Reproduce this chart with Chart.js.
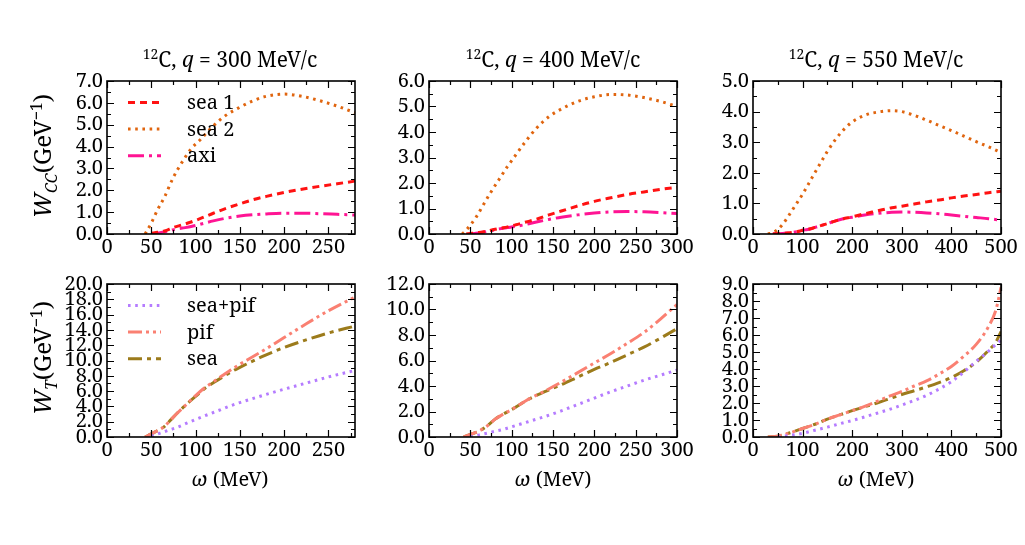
<!DOCTYPE html>
<html>
<head>
<meta charset="utf-8">
<script src="https://cdn.jsdelivr.net/npm/chart.js@4.4.1/dist/chart.umd.min.js"></script>
<style>
  html, body { margin: 0; padding: 0; background: #fff; }
  #wrap { position: relative; width: 1025px; height: 545px; background: #fff; overflow: hidden; font-family: "Noto Serif", "DejaVu Serif", serif; color: #000; }
  canvas { position: absolute; }
  .lbl { position: absolute; white-space: nowrap; line-height: 1; transform: translate(-50%, -50%); font-size: 21px; }
  .xl { font-size: 20px; }
  .ylbl { position: absolute; white-space: nowrap; line-height: 1; transform: translate(-50%, -50%) rotate(-90deg); font-size: 24px; }
  sup, sub { font-size: 0.66em; line-height: 0; }
</style>
</head>
<body>
<div id="wrap">
  <canvas id="cA"></canvas><canvas id="cB"></canvas><canvas id="cC"></canvas>
  <canvas id="cD"></canvas><canvas id="cE"></canvas><canvas id="cF"></canvas>
  <div class="lbl" style="left:230px;top:59px"><sup>12</sup>C, <i>q</i> = 300 MeV/c</div>
  <div class="lbl" style="left:553px;top:59px"><sup>12</sup>C, <i>q</i> = 400 MeV/c</div>
  <div class="lbl" style="left:876px;top:59px"><sup>12</sup>C, <i>q</i> = 550 MeV/c</div>
  <div class="ylbl" style="left:42px;top:156px"><i>W<sub>CC</sub></i>(GeV<sup>−1</sup>)</div>
  <div class="ylbl" style="left:42px;top:358px"><i>W<sub>T</sub></i>(GeV<sup>−1</sup>)</div>
  <div class="lbl xl" style="left:230px;top:479px"><i>ω</i> (MeV)</div>
  <div class="lbl xl" style="left:553px;top:479px"><i>ω</i> (MeV)</div>
  <div class="lbl xl" style="left:876px;top:479px"><i>ω</i> (MeV)</div>
</div>
<script>
// ---------- data ----------
// q = 300 MeV/c, W_CC
const omegaA = [43,50,57,65,75,85,95,105,120,135,150,165,180,200,220,240,260,280];
const sea1A  = [null,0.03,0.08,0.14,0.3,0.42,0.55,0.7,0.95,1.18,1.38,1.57,1.72,1.9,2.05,2.18,2.3,2.42];
const sea2A  = [0,0.5,1.1,1.7,2.6,3.3,3.9,4.3,4.95,5.45,5.8,6.1,6.3,6.4,6.3,6.1,5.85,5.55];
const axiA   = [null,0,0.04,0.1,0.2,0.27,0.34,0.44,0.6,0.73,0.82,0.88,0.92,0.95,0.95,0.93,0.9,0.87];
// q = 400 MeV/c, W_CC
const omegaB = [40,45,50,57,65,75,85,95,105,115,130,145,160,180,200,220,240,260,280,300];
const sea1B  = [null,0,0.02,0.05,0.08,0.15,0.22,0.28,0.36,0.45,0.58,0.75,0.9,1.1,1.28,1.42,1.55,1.65,1.75,1.83];
const sea2B  = [0,0.15,0.35,0.66,1.1,1.65,2.15,2.65,3.1,3.55,4.15,4.6,4.9,5.2,5.38,5.47,5.45,5.35,5.2,5.0];
const axiB   = [null,null,0,0.03,0.07,0.13,0.2,0.25,0.3,0.36,0.47,0.57,0.66,0.75,0.82,0.87,0.88,0.87,0.84,0.8];
// q = 550 MeV/c, W_CC
const omegaC = [30,40,50,60,70,80,90,100,110,120,130,140,150,165,180,200,225,250,280,300,325,350,375,400,425,450,475,500];
const sea1C  = [null,0,0.01,0.02,0.03,0.05,0.08,0.12,0.15,0.19,0.24,0.29,0.34,0.42,0.49,0.56,0.66,0.75,0.86,0.91,0.98,1.05,1.11,1.18,1.24,1.29,1.35,1.4];
const sea2C  = [0,0.05,0.15,0.32,0.55,0.8,1.05,1.3,1.58,1.87,2.15,2.43,2.7,3.06,3.36,3.66,3.88,3.98,4.03,4.0,3.88,3.72,3.55,3.38,3.2,3.02,2.85,2.66];
const axiC   = [null,0,0.01,0.02,0.03,0.05,0.08,0.12,0.15,0.19,0.24,0.29,0.34,0.42,0.49,0.55,0.62,0.67,0.71,0.72,0.71,0.69,0.66,0.62,0.58,0.54,0.5,0.45];
// q = 300 MeV/c, W_T
const omegaD  = [43,50,55,60,65,70,80,90,100,110,120,130,140,150,175,200,225,250,280];
const seapifD = [null,0.1,0.3,0.5,0.7,0.9,1.3,1.8,2.3,2.75,3.2,3.65,4.1,4.5,5.4,6.25,7.05,7.85,8.7];
const pifD    = [0,0.4,0.7,1.0,1.4,2.0,3.2,4.3,5.4,6.4,7.2,8.0,8.8,9.5,11.2,13.0,14.8,16.5,18.3];
const seaD    = [0,0.4,0.7,1.0,1.4,2.0,3.2,4.3,5.3,6.3,7.1,7.8,8.5,9.1,10.5,11.7,12.7,13.6,14.5];
// q = 400 MeV/c, W_T
const omegaE  = [42,50,60,70,80,90,100,110,120,140,160,180,200,220,240,260,280,300];
const seapifE = [null,0,0.15,0.3,0.45,0.6,0.8,1.0,1.2,1.6,2.05,2.55,3.05,3.55,4.0,4.45,4.85,5.25];
const pifE    = [0,0.2,0.45,0.85,1.4,1.8,2.15,2.55,2.95,3.6,4.3,5.05,5.8,6.55,7.35,8.2,9.25,10.4];
const seaE    = [0,0.2,0.45,0.85,1.4,1.8,2.15,2.55,2.95,3.55,4.1,4.7,5.3,5.85,6.45,7.05,7.75,8.5];
// q = 550 MeV/c, W_T
const omegaF  = [30,50,75,100,125,150,175,200,225,250,275,300,325,350,375,400,425,450,475,490,500];
const seapifF = [null,0,0.1,0.22,0.4,0.58,0.78,0.97,1.18,1.4,1.62,1.88,2.15,2.45,2.82,3.25,3.82,4.45,5.05,5.45,5.7];
const pifF    = [0,0.05,0.25,0.5,0.75,1.05,1.3,1.55,1.8,2.1,2.4,2.68,3.0,3.3,3.7,4.15,4.75,5.45,6.5,7.5,8.8];
const seaF    = [0,0.05,0.25,0.5,0.75,1.05,1.3,1.55,1.78,2.0,2.25,2.5,2.72,2.95,3.2,3.5,3.9,4.4,5.1,5.6,6.2];

const ccLabels = ['sea 1', 'sea 2', 'axi'];
const tLabels  = ['sea+pif', 'pif', 'sea'];

// ---------- styles ----------
const FONT = '"Noto Serif", "DejaVu Serif", serif';
const ccStyles = [
  { color: '#ff1212', dash: [7, 5] },
  { color: '#e0650f', dash: [2.6, 4.6] },
  { color: '#ff1493', dash: [16, 5, 3, 5] }
];
const tStyles = [
  { color: '#b57cff', dash: [2.6, 4.6] },
  { color: '#fa8072', dash: [14, 4, 3, 4, 3, 4] },
  { color: '#9c7b1b', dash: [14, 5, 4, 5] }
];

const framePlugin = {
  id: 'frame',
  afterDraw(chart, args, opts) {
    const { ctx, chartArea: a } = chart;
    const xs = chart.scales.x, ys = chart.scales.y;
    ctx.save();
    ctx.strokeStyle = '#000';
    ctx.lineWidth = 1.2;
    ctx.beginPath();
    const tickX = (v, len) => {
      const p = Math.round(xs.getPixelForValue(v)) + 0.5;
      ctx.moveTo(p, a.bottom); ctx.lineTo(p, a.bottom - len);
      ctx.moveTo(p, a.top); ctx.lineTo(p, a.top + len);
    };
    const tickY = (v, len) => {
      const p = Math.round(ys.getPixelForValue(v)) + 0.5;
      ctx.moveTo(a.left, p); ctx.lineTo(a.left + len, p);
      ctx.moveTo(a.right, p); ctx.lineTo(a.right - len, p);
    };
    xs.ticks.forEach(t => {
      tickX(t.value, 7);
      const m = t.value + opts.xStep / 2;
      if (m < xs.max) tickX(m, 4);
    });
    ys.ticks.forEach(t => {
      tickY(t.value, 7);
      const m = t.value + opts.yStep / 2;
      if (m < ys.max) tickY(m, 4);
    });
    ctx.stroke();
    ctx.lineWidth = 1.6;
    ctx.strokeRect(a.left, a.top, a.right - a.left, a.bottom - a.top);
    ctx.restore();
  }
};

const legendPlugin = {
  id: 'inlegend',
  afterDatasetsDraw(chart, args, opts) {
    if (!opts.show) return;
    const { ctx, chartArea: a } = chart;
    chart.data.datasets.forEach((ds, i) => {
      const y = a.top + 21.5 + i * 26.6;
      ctx.save();
      ctx.strokeStyle = ds.borderColor;
      ctx.lineWidth = ds.borderWidth;
      ctx.setLineDash(ds.borderDash || []);
      ctx.beginPath();
      ctx.moveTo(a.left + 21, y); ctx.lineTo(a.left + 54, y);
      ctx.stroke();
      ctx.setLineDash([]);
      ctx.fillStyle = '#000';
      ctx.font = '20px ' + FONT;
      ctx.textBaseline = 'middle';
      ctx.textAlign = 'left';
      ctx.fillText(ds.label, a.left + 80, y + 1);
      ctx.restore();
    });
  }
};

const PW = 248, PH = 157, ML = 60, MT = 12, MR = 26, MB = 30;

function makePanel(id, plotLeft, plotTop, omega, series, labels, styles, xMax, xStep, yMax, yStep, showLegend) {
  const cv = document.getElementById(id);
  cv.width = PW + ML + MR; cv.height = PH + MT + MB;
  cv.style.width = cv.width + 'px'; cv.style.height = cv.height + 'px';
  cv.style.left = (plotLeft - ML) + 'px'; cv.style.top = (plotTop - MT) + 'px';
  const datasets = series.map((vals, i) => ({
    label: labels[i],
    data: omega.map((w, k) => ({ x: w, y: vals[k] })),
    borderColor: styles[i].color,
    borderDash: styles[i].dash,
    borderWidth: 3,
    borderCapStyle: 'butt',
    pointRadius: 0,
    fill: false,
    cubicInterpolationMode: 'monotone',
    spanGaps: false
  }));
  return new Chart(cv, {
    type: 'line',
    data: { datasets },
    plugins: [framePlugin, legendPlugin],
    options: {
      responsive: false,
      animation: false,
      devicePixelRatio: 1,
      layout: { padding: { left: 0, right: MR, top: MT, bottom: 0 } },
      plugins: {
        legend: { display: false },
        tooltip: { enabled: false },
        frame: { xStep, yStep },
        inlegend: { show: showLegend }
      },
      scales: {
        x: {
          type: 'linear', min: 0, max: xMax,
          grid: { display: false, drawTicks: false },
          border: { display: false },
          ticks: { stepSize: xStep, includeBounds: false, autoSkip: false, maxRotation: 0, padding: 1,
                   color: '#000', font: { family: FONT, size: 20 } },
          afterFit: s => { s.height = MB; }
        },
        y: {
          type: 'linear', min: 0, max: yMax,
          grid: { display: false, drawTicks: false },
          border: { display: false },
          ticks: { stepSize: yStep, autoSkip: false, padding: 4, color: '#000',
                   font: { family: FONT, size: 20 },
                   callback: v => v.toFixed(1) },
          afterFit: s => { s.width = ML; }
        }
      }
    }
  });
}

function build() {
  const TOP1 = 77, TOP2 = 280;
  makePanel('cA', 107, TOP1, omegaA, [sea1A, sea2A, axiA], ccLabels, ccStyles, 280, 50, 7, 1, true);
  makePanel('cB', 429, TOP1, omegaB, [sea1B, sea2B, axiB], ccLabels, ccStyles, 300, 50, 6, 1, false);
  makePanel('cC', 753, TOP1, omegaC, [sea1C, sea2C, axiC], ccLabels, ccStyles, 500, 100, 5, 1, false);
  makePanel('cD', 107, TOP2, omegaD, [seapifD, pifD, seaD], tLabels, tStyles, 280, 50, 20, 2, true);
  makePanel('cE', 429, TOP2, omegaE, [seapifE, pifE, seaE], tLabels, tStyles, 300, 50, 12, 2, false);
  makePanel('cF', 753, TOP2, omegaF, [seapifF, pifF, seaF], tLabels, tStyles, 500, 100, 9, 1, false);
}

let built = false;
function go() { if (!built) { built = true; build(); } }
if (document.fonts && document.fonts.load) {
  Promise.all([
    document.fonts.load('20px "Noto Serif"'),
    document.fonts.load('italic 20px "Noto Serif"')
  ]).then(go, go);
  setTimeout(go, 1500);
} else {
  go();
}
</script>
</body>
</html>
